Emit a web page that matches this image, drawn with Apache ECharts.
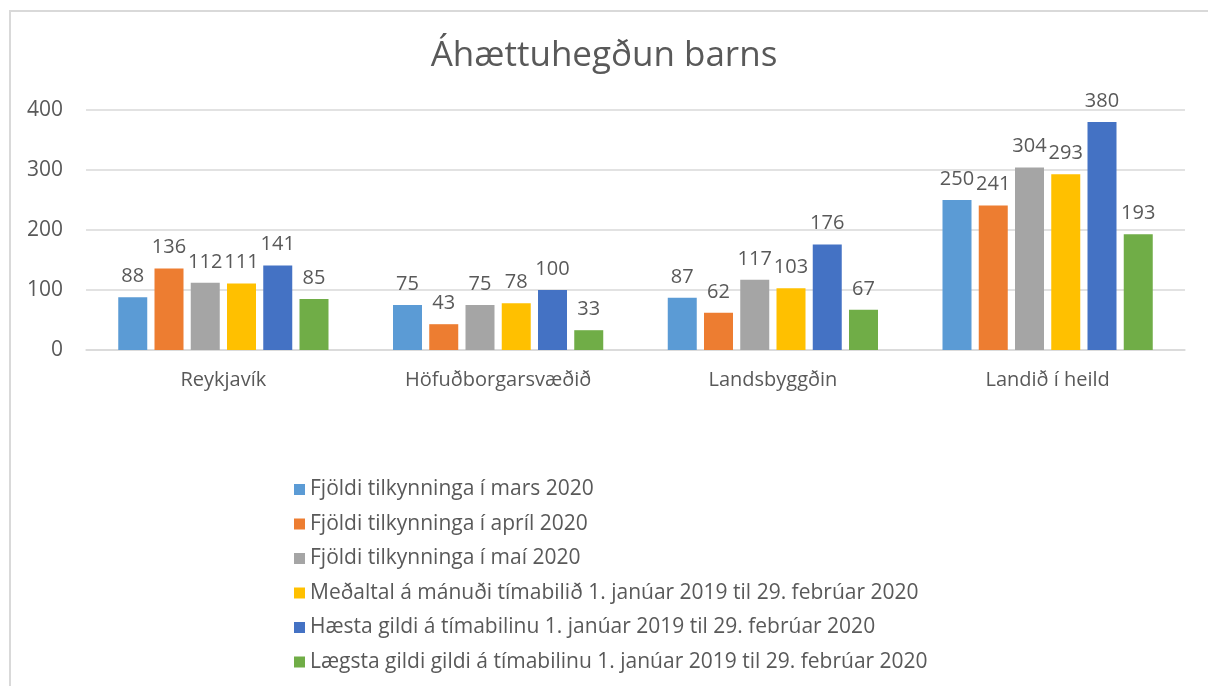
<!DOCTYPE html>
<html>
<head>
<meta charset="utf-8">
<script src="https://cdn.jsdelivr.net/npm/echarts@6/dist/echarts.min.js"></script>
<style>
  html, body { margin: 0; padding: 0; background: #fff; }
  #frame {
    position: absolute; left: 9px; top: 10px; width: 1300px; height: 800px;
    border-left: 2px solid #d9d9d9; border-top: 2px solid #d9d9d9;
  }
  #chart { position: absolute; left: 0; top: 0; width: 1208px; height: 686px; }
</style>
</head>
<body>
<div id="frame"></div>
<div id="chart"></div>
<script>
// flokkar og gildi
const categories = ['Reykjavík', 'Höfuðborgarsvæðið', 'Landsbyggðin', 'Landið í heild']
const seriesNames = [
  'Fjöldi tilkynninga í mars 2020',
  'Fjöldi tilkynninga í apríl 2020',
  'Fjöldi tilkynninga í maí 2020',
  'Meðaltal á mánuði tímabilið 1. janúar 2019 til 29. febrúar 2020',
  'Hæsta gildi á tímabilinu 1. janúar 2019 til 29. febrúar 2020',
  'Lægsta gildi gildi á tímabilinu 1. janúar 2019 til 29. febrúar 2020',
]
const mars = [88, 75, 87, 250]
const april = [136, 43, 62, 241]
const mai = [112, 75, 117, 304]
const medaltal = [111, 78, 103, 293]
const haesta = [141, 100, 176, 380]
const laegsta = [85, 33, 67, 193]
const yTicks = [0, 100, 200, 300, 400]

const colors = ['#5b9bd5', '#ed7d31', '#a5a5a5', '#ffc000', '#4472c4', '#70ad47']
const font = '"Open Sans", "Noto Sans", sans-serif'
const textCol = '#595959'

const values = [mars, april, mai, medaltal, haesta, laegsta]

const chart = echarts.init(document.getElementById('chart'))
chart.setOption({
  animation: false,
  color: colors,
  textStyle: { fontFamily: font },
  title: {
    text: 'Áhættuhegðun barns',
    left: 'center',
    top: 34,
    textStyle: { fontFamily: font, fontSize: 35, fontWeight: 'normal', color: textCol },
  },
  grid: { left: 86, right: 23, top: 110, bottom: 336 },
  xAxis: {
    type: 'category',
    data: categories,
    axisLine: { lineStyle: { color: '#d9d9d9', width: 1.5 } },
    axisTick: { show: false },
    axisLabel: { color: textCol, fontSize: 20, margin: 20, fontFamily: font },
  },
  yAxis: {
    type: 'value',
    min: yTicks[0],
    max: yTicks[yTicks.length - 1],
    interval: 100,
    axisLine: { show: false },
    axisTick: { show: false },
    splitLine: { lineStyle: { color: '#d9d9d9', width: 1.5 } },
    axisLabel: { color: textCol, fontSize: 21, margin: 23, fontFamily: font },
  },
  legend: {
    orient: 'vertical',
    left: 289,
    top: 474,
    itemWidth: 11,
    itemHeight: 11,
    itemGap: 13.5,
    icon: 'rect',
    data: seriesNames,
    textStyle: { color: textCol, fontSize: 21, lineHeight: 21, fontFamily: font },
  },
  series: seriesNames.map((name, i) => ({
    name,
    type: 'bar',
    data: values[i],
    barWidth: 29,
    barGap: '25%',
    itemStyle: { color: colors[i] },
    label: {
      show: true,
      position: 'top',
      distance: 11,
      color: textCol,
      fontSize: 20,
      fontFamily: font,
    },
  })),
})
</script>
</body>
</html>
